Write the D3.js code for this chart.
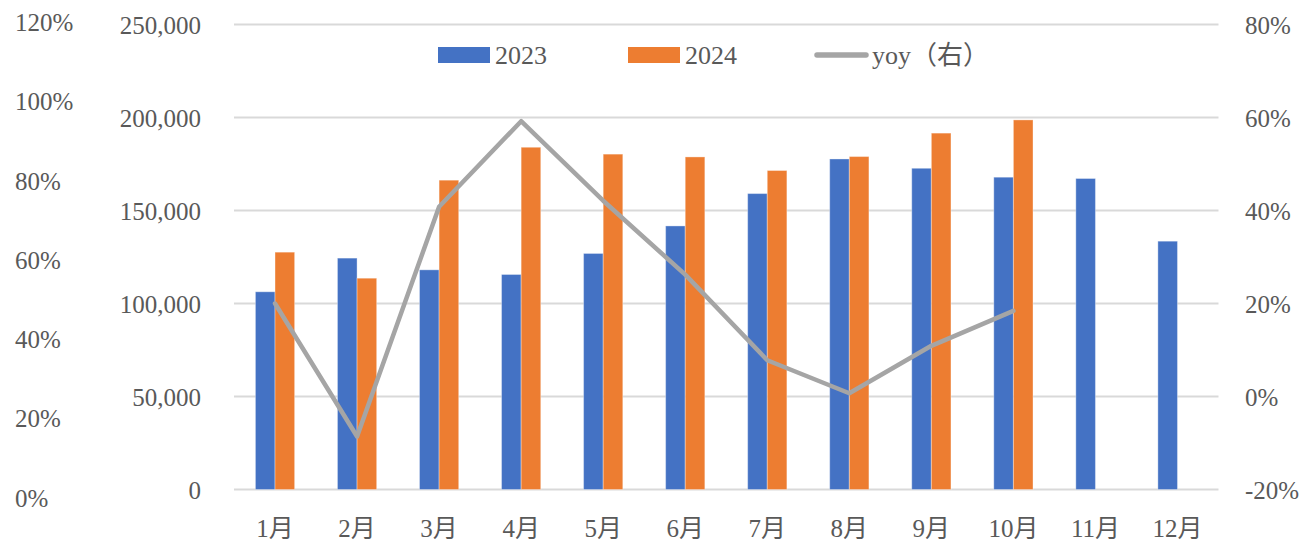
<!DOCTYPE html>
<html>
<head>
<meta charset="utf-8">
<script src="https://cdn.jsdelivr.net/npm/d3@7"></script>
<style>
  html, body { margin: 0; padding: 0; background: #fff; }
  svg text { font-family: "Liberation Serif", "Noto Sans CJK JP", serif; fill: #595959; }
</style>
</head>
<body>
<svg id="chart" width="1302" height="544"></svg>
<script>
// Monthly totals, 2023 vs 2024, with year-on-year change
const months = ["1月","2月","3月","4月","5月","6月","7月","8月","9月","10月","11月","12月"];
const values2023 = [106300, 124400, 118100, 115600, 126900, 141700, 159100, 177700, 172700, 167900, 167200, 133500];
const values2024 = [127600, 113600, 166300, 184000, 180300, 178800, 171500, 179000, 191600, 198700, null, null];
const yoy = [0.200, -0.086, 0.408, 0.592, 0.421, 0.262, 0.078, 0.007, 0.109, 0.184];

const countTicks = [0, 50000, 100000, 150000, 200000, 250000];
const rightTicks = [-0.2, 0, 0.2, 0.4, 0.6, 0.8];
const outerTicks = [0, 0.2, 0.4, 0.6, 0.8, 1.0, 1.2];

const seriesNames = ["2023", "2024"];
const colors = { "2023": "#4472C4", "2024": "#ED7D31", yoy: "#A5A5A5" };

const svg = d3.select("#chart");
const plot = { left: 234, right: 1218.5, top: 24.5, bottom: 489.5 };

const x = d3.scaleBand().domain(months).range([plot.left, plot.right])
  .paddingInner(0.522).paddingOuter(0.261);
const xSub = d3.scaleBand().domain(seriesNames).range([0, x.bandwidth()]);
const y = d3.scaleLinear().domain([0, 250000]).range([plot.bottom, plot.top]);
const yRight = d3.scaleLinear().domain([-0.2, 0.8]).range([plot.bottom, plot.top]);
const yOuter = d3.scaleLinear().domain([0, 1.2]).range([497.5, 22]);

// gridlines
svg.append("g").selectAll("line").data(countTicks).join("line")
  .attr("x1", plot.left).attr("x2", plot.right)
  .attr("y1", d => y(d)).attr("y2", d => y(d))
  .attr("stroke", "#d9d9d9").attr("stroke-width", 2);

const styleTicks = g => g.selectAll("text").attr("font-size", 25).attr("fill", "#595959")
  .attr("font-family", "Liberation Serif, Noto Sans CJK JP");

// left count axis
const fmt = d3.format(",");
const leftAxis = d3.axisLeft(y).tickValues(countTicks).tickFormat(d => fmt(d)).tickSize(0).tickPadding(0);
svg.append("g").attr("transform", "translate(201,0)").call(leftAxis)
  .call(g => g.select(".domain").remove())
  .call(styleTicks)
  .call(g => g.selectAll("text").attr("dy", "0.34em"));

// percentage labels with a plain hyphen for negatives
const pct = d => (d3.format(".0%")(d)).replace("\u2212", "-");

// outer percentage axis
const outerAxis = d3.axisRight(yOuter).tickValues(outerTicks).tickFormat(pct).tickSize(0).tickPadding(0);
svg.append("g").attr("transform", "translate(15,0)").call(outerAxis)
  .call(g => g.select(".domain").remove())
  .call(styleTicks)
  .call(g => g.selectAll("text").attr("dy", "0.34em"));

// right yoy axis
const rightAxis = d3.axisRight(yRight).tickValues(rightTicks).tickFormat(pct).tickSize(0).tickPadding(0);
svg.append("g").attr("transform", "translate(1245,0)").call(rightAxis)
  .call(g => g.select(".domain").remove())
  .call(styleTicks)
  .call(g => g.selectAll("text").attr("dy", "0.34em"));

// bottom month axis
const bottomAxis = d3.axisBottom(x).tickSize(0).tickPadding(0);
svg.append("g").attr("transform", "translate(0,540)").call(bottomAxis)
  .call(g => g.select(".domain").remove())
  .call(styleTicks)
  .call(g => g.selectAll("text").attr("dy", "-0.12em"));

// bars
const rows = months.map((m, i) => ({ m, "2023": values2023[i], "2024": values2024[i] }));
const groups = svg.append("g").selectAll("g").data(rows).join("g")
  .attr("transform", d => `translate(${x(d.m)},0)`);
groups.selectAll("rect")
  .data(d => seriesNames.filter(s => d[s] != null).map(s => ({ s, v: d[s] })))
  .join("rect")
  .attr("x", d => xSub(d.s))
  .attr("width", xSub.bandwidth())
  .attr("y", d => y(d.v))
  .attr("height", d => y(0) - y(d.v))
  .attr("fill", d => colors[d.s])
  .attr("stroke", "rgba(255,255,255,0.35)")
  .attr("stroke-width", 1);

// yoy line
const line = d3.line()
  .x((d, i) => x(months[i]) + x.bandwidth() / 2)
  .y(d => yRight(d));
svg.append("path").datum(yoy)
  .attr("d", line)
  .attr("fill", "none")
  .attr("stroke", colors.yoy)
  .attr("stroke-width", 4.5)
  .attr("stroke-linejoin", "round")
  .attr("stroke-linecap", "round");

// legend
const legend = svg.append("g");
const legendItems = [
  { key: "2023", label: "2023", x: 438, type: "rect" },
  { key: "2024", label: "2024", x: 628, type: "rect" },
  { key: "yoy", label: "yoy（右）", x: 815, type: "line" }
];
legendItems.forEach(it => {
  if (it.type === "rect") {
    legend.append("rect").attr("x", it.x).attr("y", 47).attr("width", 52).attr("height", 16)
      .attr("fill", colors[it.key]);
  } else {
    legend.append("line").attr("x1", it.x + 2).attr("x2", it.x + 51).attr("y1", 55).attr("y2", 55)
      .attr("stroke", colors[it.key]).attr("stroke-width", 5.5).attr("stroke-linecap", "round");
  }
  legend.append("text").attr("x", it.x + 57).attr("y", 63.5)
    .attr("font-size", 26).attr("font-family", "Liberation Serif, Noto Sans CJK JP")
    .attr("fill", "#595959").text(it.label);
});
</script>
</body>
</html>
